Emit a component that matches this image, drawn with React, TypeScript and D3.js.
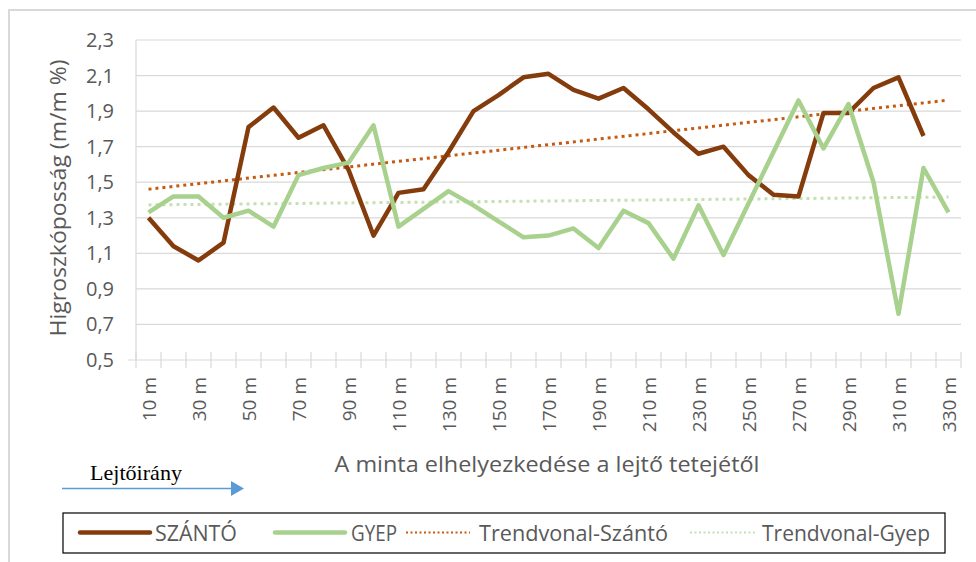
import React from 'react'
import * as d3 from 'd3'

// sample positions down the slope
const categories = [
  '10 m', '20 m', '30 m', '40 m', '50 m', '60 m', '70 m', '80 m', '90 m', '100 m',
  '110 m', '120 m', '130 m', '140 m', '150 m', '160 m', '170 m', '180 m', '190 m', '200 m',
  '210 m', '220 m', '230 m', '240 m', '250 m', '260 m', '270 m', '280 m', '290 m', '300 m',
  '310 m', '320 m', '330 m',
]

// hygroscopicity (m/m %) - arable land, no value at 330 m
const szanto: (number | null)[] = [
  1.30, 1.14, 1.06, 1.16, 1.81, 1.92, 1.75, 1.82, 1.57, 1.20,
  1.44, 1.46, 1.67, 1.90, 1.99, 2.09, 2.11, 2.02, 1.97, 2.03,
  1.91, 1.78, 1.66, 1.70, 1.54, 1.43, 1.42, 1.89, 1.89, 2.03,
  2.09, 1.76, null,
]

// grassland
const gyep: (number | null)[] = [
  1.33, 1.42, 1.42, 1.30, 1.34, 1.25, 1.54, 1.58, 1.61, 1.82,
  1.25, 1.35, 1.45, 1.37, 1.28, 1.19, 1.20, 1.24, 1.13, 1.34,
  1.27, 1.07, 1.37, 1.09, 1.38, 1.67, 1.96, 1.69, 1.94, 1.50,
  0.76, 1.58, 1.33,
]

const yTicks = [0.5, 0.7, 0.9, 1.1, 1.3, 1.5, 1.7, 1.9, 2.1, 2.3]

const TEXT = '#595959'
const GRID = '#D9D9D9'
const FONT = '"Open Sans", sans-serif'

// linear trend like excel: x = 1..n over the defined points
function trend(vals: (number | null)[]) {
  const pts = vals.map((v, i) => [i + 1, v] as [number, number | null]).filter(p => p[1] != null) as [number, number][]
  const mx = d3.mean(pts, p => p[0])!
  const my = d3.mean(pts, p => p[1])!
  const sxy = d3.sum(pts, p => (p[0] - mx) * (p[1] - my))
  const sxx = d3.sum(pts, p => (p[0] - mx) ** 2)
  const b = sxy / sxx
  const a = my - b * mx
  return vals.map((_, i) => a + b * (i + 1))
}

const App = () => {
  const x = d3.scaleBand<string>().domain(categories).range([136, 961]).padding(0)
  const y = d3.scaleLinear().domain([0.5, 2.3]).range([360, 40])
  const cx = (i: number) => x(categories[i])! + x.bandwidth() / 2

  const ln = d3.line<number | null>()
    .defined(d => d != null)
    .x((_, i) => cx(i))
    .y(d => y(d as number))

  const trendSz = trend(szanto)
  const trendGy = trend(gyep)
  // straight segment from first to last category
  const seg = (t: number[]) => `M${cx(0)},${y(t[0])}L${cx(t.length - 1)},${y(t[t.length - 1])}`

  const boundaries = d3.range(categories.length + 1).map(i => 136 + i * x.bandwidth())

  return (
    <svg width={976} height={562} style={{ position: 'absolute', left: 0, top: 0, background: '#fff' }}>
      <rect x={9} y={10} width={1000} height={600} fill="#fff" stroke={GRID} strokeWidth={2} />

      {/* horizontal gridlines */}
      {yTicks.map(t => (
        <line key={t} x1={t === 0.5 ? 128 : 136} x2={961} y1={y(t)} y2={y(t)} stroke={GRID} strokeWidth={1.2} />
      ))}
      <line x1={136} x2={136} y1={y(2.3)} y2={y(0.5)} stroke={GRID} strokeWidth={1.2} />
      {boundaries.map((bx, i) => (
        <line key={i} x1={bx} x2={bx} y1={352} y2={368} stroke={GRID} strokeWidth={1.2} />
      ))}

      {/* y tick labels */}
      {yTicks.map(t => (
        <text key={t} x={114} y={y(t) + 7} textAnchor="end" fontFamily={FONT} fontSize={20} fill={TEXT}>
          {d3.format('.1f')(t).replace('.', ',')}
        </text>
      ))}

      {/* x tick labels, every second */}
      {categories.map((c, i) => i % 2 === 0 && (
        <text key={c} transform={`translate(${cx(i) + 7.5},377) rotate(-90)`} textAnchor="end"
          fontFamily={FONT} fontSize={19} fill={TEXT}>{c}</text>
      ))}

      <text transform="translate(66,198) rotate(-90)" textAnchor="middle" fontFamily={FONT} fontSize={21}
        fill={TEXT} textLength={277} lengthAdjust="spacingAndGlyphs">Higroszkóposság (m/m %)</text>
      <text x={547} y={472} textAnchor="middle" fontFamily={FONT} fontSize={21} fill={TEXT}
        textLength={425} lengthAdjust="spacingAndGlyphs">A minta elhelyezkedése a lejtő tetejétől</text>

      {/* trendlines */}
      <path d={seg(trendGy)} fill="none" stroke="#C5E0B4" strokeWidth={3} strokeDasharray="3 4" />
      <path d={seg(trendSz)} fill="none" stroke="#C55A11" strokeWidth={3} strokeDasharray="3 4" />

      {/* series */}
      <path d={ln(szanto)!} fill="none" stroke="#843C0C" strokeWidth={4.5} strokeLinejoin="round" />
      <path d={ln(gyep)!} fill="none" stroke="#A9D18E" strokeWidth={4.5} strokeLinejoin="round" />

      {/* slope direction */}
      <text x={90} y={480} fontFamily='"Liberation Serif", serif' fontSize={21} fill="#000"
        textLength={92} lengthAdjust="spacingAndGlyphs">Lejtőirány</text>
      <line x1={62} x2={232} y1={488.5} y2={488.5} stroke="#5B9BD5" strokeWidth={1.5} />
      <path d="M231,481L244,488.5L231,496Z" fill="#5B9BD5" />

      {/* legend */}
      <rect x={63} y={513} width={882} height={40} fill="#fff" stroke="#000" strokeWidth={1.2} />
      <line x1={80} x2={150} y1={532.5} y2={532.5} stroke="#843C0C" strokeWidth={4.5} strokeLinecap="round" />
      <text x={155} y={541} fontFamily={FONT} fontSize={21} fill={TEXT} textLength={82} lengthAdjust="spacingAndGlyphs">SZÁNTÓ</text>
      <line x1={275} x2={345} y1={532.5} y2={532.5} stroke="#A9D18E" strokeWidth={4.5} strokeLinecap="round" />
      <text x={351} y={541} fontFamily={FONT} fontSize={21} fill={TEXT} textLength={46} lengthAdjust="spacingAndGlyphs">GYEP</text>
      <line x1={406} x2={470} y1={532.5} y2={532.5} stroke="#C55A11" strokeWidth={2} strokeDasharray="2 2.5" />
      <text x={479} y={541} fontFamily={FONT} fontSize={21} fill={TEXT} textLength={189} lengthAdjust="spacingAndGlyphs">Trendvonal-Szántó</text>
      <line x1={690} x2={755} y1={532.5} y2={532.5} stroke="#C5E0B4" strokeWidth={2} strokeDasharray="2 2.5" />
      <text x={762} y={541} fontFamily={FONT} fontSize={21} fill={TEXT} textLength={168} lengthAdjust="spacingAndGlyphs">Trendvonal-Gyep</text>
    </svg>
  )
}

export default App
